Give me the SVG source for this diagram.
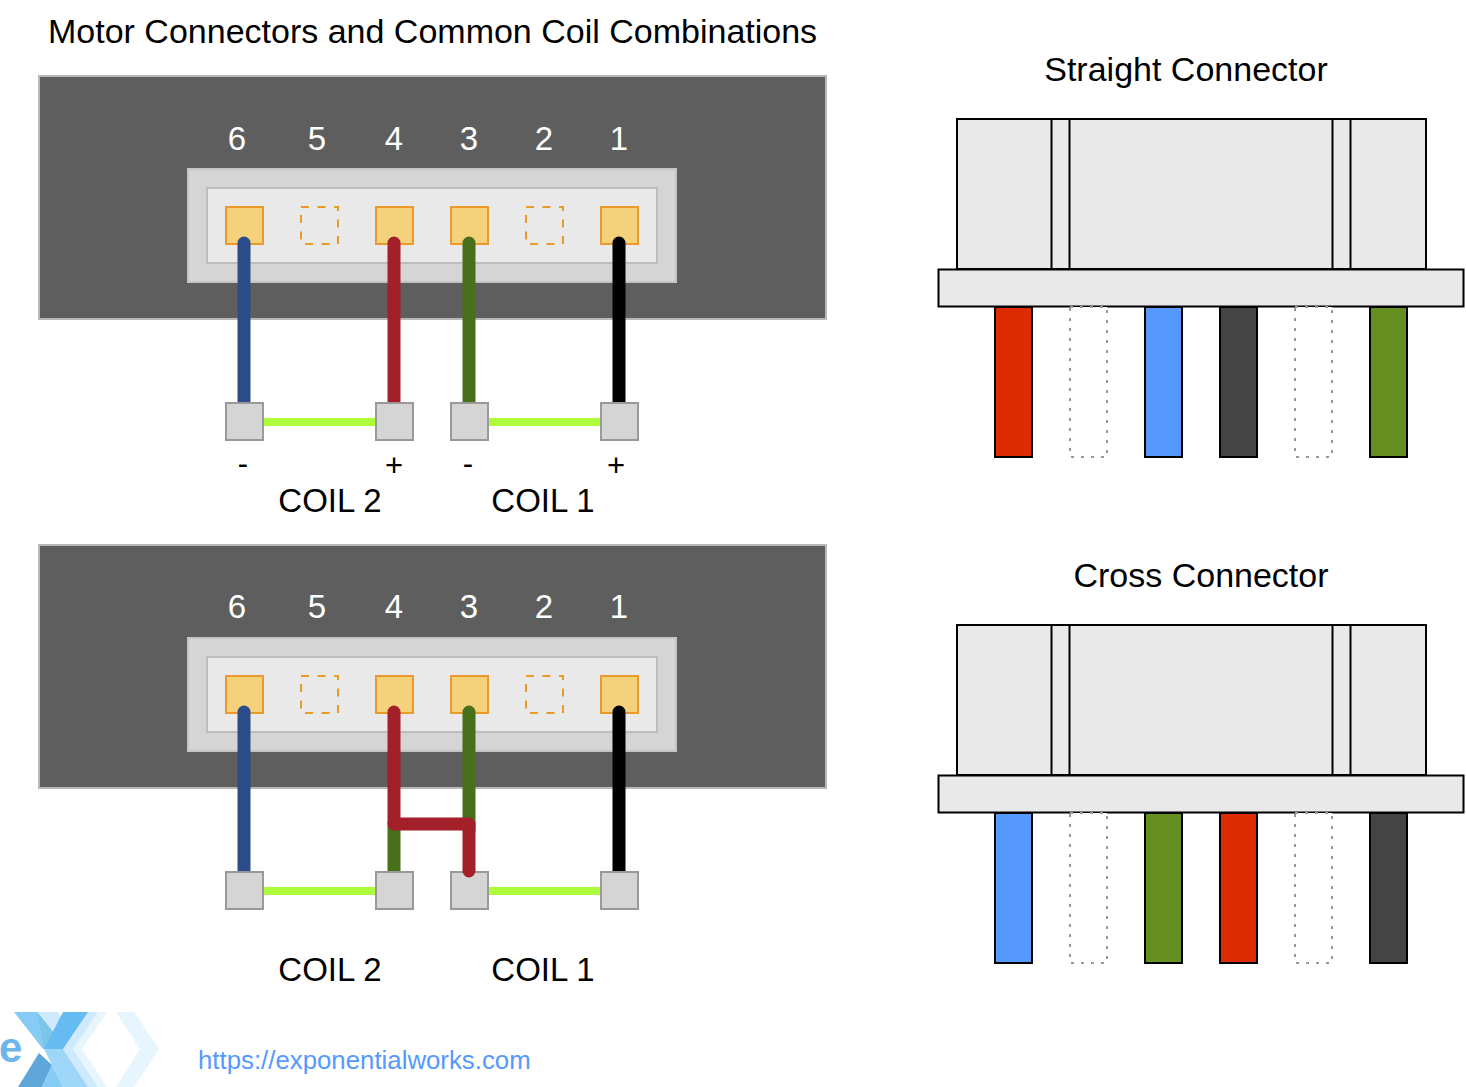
<svg xmlns="http://www.w3.org/2000/svg" width="1466" height="1087" viewBox="0 0 1466 1087">
<style>
text{font-family:"Liberation Sans",Arial,sans-serif;font-size:33px;fill:#000}
.t{font-size:34px}
.s{font-size:31px}
.n{fill:#fff;text-anchor:middle}
.c{text-anchor:middle}
.body{fill:#5e5e5e;stroke:#b8b8b8;stroke-width:2}
.outer{fill:#d5d5d5;stroke:#c4c4c4;stroke-width:2}
.inner{fill:#e9e9e9;stroke:#bdbdbd;stroke-width:2}
.pin{fill:#f4d27c;stroke:#ea9a2a;stroke-width:2}
.gap{fill:none;stroke:#ea9a2a;stroke-width:2;stroke-dasharray:8 8.500}
.term{fill:#d5d5d5;stroke:#999;stroke-width:2}
.w{fill:none;stroke-width:13;stroke-linecap:round;stroke-linejoin:round}
.link{fill:none;stroke:#aefb3c;stroke-width:8}
.blue{stroke:#2b4c88}.red{stroke:#a31f2a}.green{stroke:#48701a}.black{stroke:#000}
.hs{fill:#e9e9e9;stroke:#000;stroke-width:2}
.lead{stroke:#000;stroke-width:2}
.empty{fill:#fff;stroke:#999;stroke-width:2;stroke-dasharray:3 7}
</style>
<defs>
<g id="motor">
<rect class="body" x="39" y="76" width="787" height="243"/>
<rect class="outer" x="188" y="169" width="488" height="113"/>
<rect class="inner" x="207" y="188" width="450" height="75"/>
<rect class="pin" x="226" y="207" width="37" height="37"/>
<rect class="gap" x="301" y="207" width="37" height="37"/>
<rect class="pin" x="376" y="207" width="37" height="37"/>
<rect class="pin" x="451" y="207" width="37" height="37"/>
<rect class="gap" x="526" y="207" width="37" height="37"/>
<rect class="pin" x="601" y="207" width="37" height="37"/>
</g>
<g id="nums">
<text class="n" x="237" y="150">6</text>
<text class="n" x="317" y="150">5</text>
<text class="n" x="394" y="150">4</text>
<text class="n" x="469" y="150">3</text>
<text class="n" x="544" y="150">2</text>
<text class="n" x="619" y="150">1</text>
</g>
<g id="plug">
<rect class="hs" x="957" y="119" width="469" height="150"/>
<rect class="hs" x="1051.500" y="119" width="18" height="150"/>
<rect class="hs" x="1332.500" y="119" width="18" height="150"/>
<rect class="hs" x="938.500" y="269.500" width="525" height="37"/>
<rect class="empty" x="1070" y="307" width="37" height="150"/>
<rect class="empty" x="1295" y="307" width="37" height="150"/>
</g>
</defs>

<text class="t" x="48" y="43">Motor Connectors and Common Coil Combinations</text>

<g id="motor-top"><use href="#motor"/><use href="#nums"/></g>
<g id="motor-bottom"><use href="#motor" y="469"/><use href="#nums" y="468"/></g>

<g id="connectors">
<path class="w blue" d="M244 243V403"/>
<path class="w red" d="M394 243V403"/>
<path class="w green" d="M469 243V403"/>
<path class="w black" d="M619 243V403"/>
<path class="link" d="M264 422H376M489 422H601"/>
<path class="w blue" d="M244 712V872"/>
<path class="w green" d="M469 712V830M394 824V872"/>
<path class="w black" d="M619 712V872"/>
<path class="link" d="M264 891H376M489 891H601"/>
</g>

<g id="terminals-top">
<rect class="term" x="226" y="403" width="37" height="37"/>
<rect class="term" x="376" y="403" width="37" height="37"/>
<rect class="term" x="451" y="403" width="37" height="37"/>
<rect class="term" x="601" y="403" width="37" height="37"/>
<text class="c s" x="243" y="474">-</text>
<text class="c s" x="394" y="476">+</text>
<text class="c s" x="468" y="474">-</text>
<text class="c s" x="616" y="476">+</text>
<text class="c" x="330" y="512">COIL 2</text>
<text class="c" x="543" y="512">COIL 1</text>
</g>
<g id="terminals-bottom">
<rect class="term" x="226" y="872" width="37" height="37"/>
<rect class="term" x="376" y="872" width="37" height="37"/>
<rect class="term" x="451" y="872" width="37" height="37"/>
<rect class="term" x="601" y="872" width="37" height="37"/>
<path class="w red" d="M394 712V824H469V871"/>
<text class="c" x="330" y="981">COIL 2</text>
<text class="c" x="543" y="981">COIL 1</text>
</g>

<g id="straight-connector">
<text class="c t" x="1186" y="81">Straight Connector</text>
<use href="#plug"/>
<rect class="lead" fill="#dd2c00" x="995" y="307" width="37" height="150"/>
<rect class="lead" fill="#5599ff" x="1145" y="307" width="37" height="150"/>
<rect class="lead" fill="#444" x="1220" y="307" width="37" height="150"/>
<rect class="lead" fill="#668f22" x="1370" y="307" width="37" height="150"/>
</g>
<g id="cross-connector">
<text class="c t" x="1201" y="587">Cross Connector</text>
<use href="#plug" y="506"/>
<rect class="lead" fill="#5599ff" x="995" y="813" width="37" height="150"/>
<rect class="lead" fill="#668f22" x="1145" y="813" width="37" height="150"/>
<rect class="lead" fill="#dd2c00" x="1220" y="813" width="37" height="150"/>
<rect class="lead" fill="#444" x="1370" y="813" width="37" height="150"/>
</g>

<g id="logo">
<path fill="#e6f5fe" d="M116 1012H134L159 1049L134 1087H116L140 1049Z"/>
<path fill="#e6f5fe" d="M98 1012H107L82 1049L107 1087H98L73 1049Z"/>
<path fill="#cfeafd" d="M88 1012H98L73 1049L98 1087H88L63 1049Z"/>
<path fill="#cfeafd" d="M37 1012H58L72 1035L60 1045Z"/>
<path fill="#85cbf6" d="M14 1012H37L54 1033L44 1049H43Z"/>
<path fill="#7cc4e8" d="M37 1012L54 1033L44 1049Z"/>
<path fill="#66bbf2" d="M63 1012H88L63 1049H44Z"/>
<path fill="#9dd6f8" d="M44 1049H63L88 1087H63Z"/>
<path fill="#5fa6d8" d="M39 1053L52 1065L42 1087H18Z"/>
<path fill="#85cbf6" d="M52 1065L63 1087H42Z"/>
<text x="-1" y="1062" style="font-size:42px;font-weight:bold;fill:#6cb6ea">e</text>
</g>
<text id="url" x="198" y="1069" style="font-size:25.800px;fill:#5599ff">https://exponentialworks.com</text>
</svg>
